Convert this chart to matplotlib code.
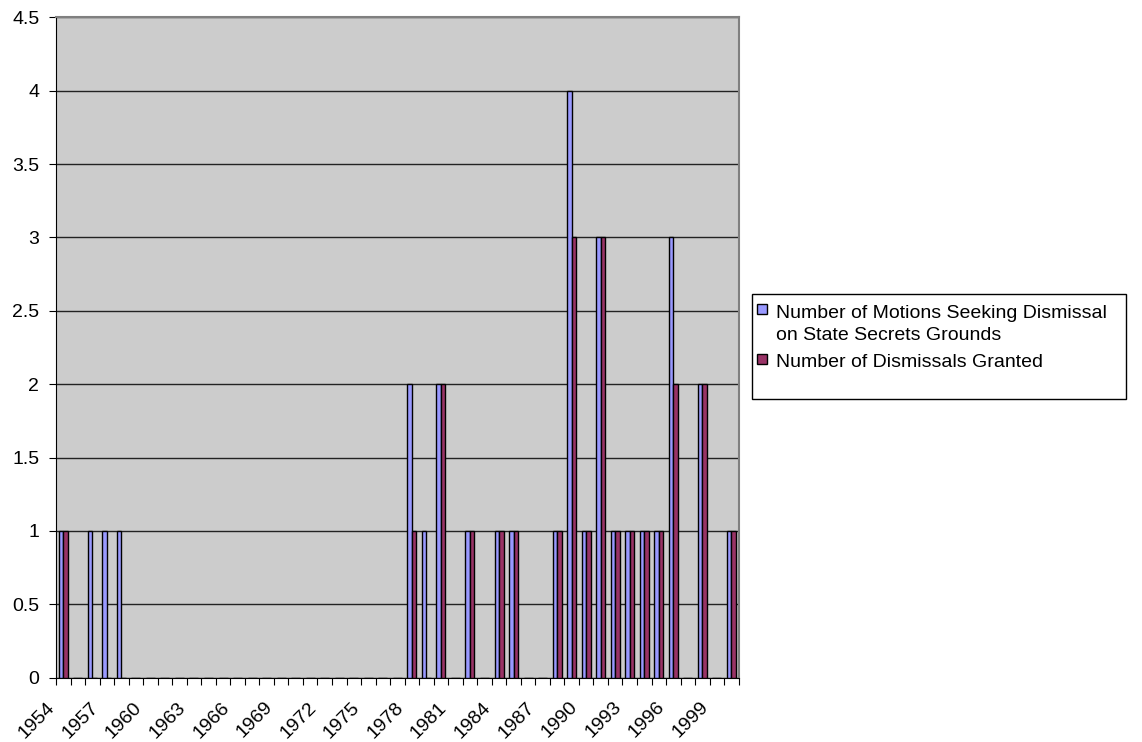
import numpy as np
import matplotlib
matplotlib.use("Agg")
import matplotlib.pyplot as plt
from matplotlib.patches import Rectangle
from matplotlib.transforms import ScaledTranslation

plt.rcParams['font.family'] = ['Liberation Sans', 'DejaVu Sans']

years = list(range(1954, 2001))
motions = [1, 0, 1, 1, 1, 0, 0, 0, 0, 0,   # 1954-1963
           0, 0, 0, 0, 0, 0, 0, 0, 0, 0,   # 1964-1973
           0, 0, 0, 0, 2, 1, 2, 0, 1, 0,   # 1974-1983
           1, 1, 0, 0, 1, 4, 1, 3, 1, 1,   # 1984-1993
           1, 1, 3, 0, 2, 0, 1]            # 1994-2000
dismissals = [1, 0, 0, 0, 0, 0, 0, 0, 0, 0,
              0, 0, 0, 0, 0, 0, 0, 0, 0, 0,
              0, 0, 0, 0, 1, 0, 2, 0, 1, 0,
              1, 1, 0, 0, 1, 3, 1, 3, 1, 1,
              1, 1, 2, 0, 2, 0, 1]
labels = [["Number of Motions Seeking Dismissal", "on State Secrets Grounds"],
          ["Number of Dismissals Granted"]]
colors = ["#9999FF", "#993366"]

W, H = 1142, 742
fig = plt.figure(figsize=(W / 100, H / 100), dpi=100)
ax = fig.add_axes([56 / W, 1 - 677.7 / H, (738.7 - 56) / W, (677.7 - 17.3) / H])
ax.set_facecolor("#CCCCCC")

x = np.arange(len(years))
w = 0.31
ax.bar(x - w / 2, motions, w, color=colors[0], edgecolor="black", linewidth=1, zorder=3)
ax.bar(x + w / 2, dismissals, w, color=colors[1], edgecolor="black", linewidth=1, zorder=3)

ax.set_xlim(-0.5, len(years) - 0.5)
ax.set_ylim(0, 4.5)
yt = np.arange(0, 4.51, 0.5)
ax.set_yticks(yt)
ax.set_yticklabels(["%g" % v for v in yt], fontsize=14)
ax.yaxis.grid(True, color="#222222", linewidth=1, zorder=1)
ax.set_axisbelow(True)

# tick marks at category boundaries
ax.set_xticks(np.arange(len(years) + 1) - 0.5)
ax.set_xticklabels([])
ax.tick_params(axis="x", length=5, direction="out", color="black")
ax.tick_params(axis="y", length=5, direction="out", color="black", pad=7)

# year labels every third category, rotated like the spreadsheet
off = ScaledTranslation(-11 / 100, -27 / 100, fig.dpi_scale_trans)
for i in x[::3]:
    ax.text(i, 0, str(years[i]), transform=ax.get_xaxis_transform() + off,
            rotation=45, rotation_mode="anchor", ha="right", va="center", fontsize=14)

ax.spines["left"].set_color("black")
ax.spines["bottom"].set_color("black")
ax.spines["top"].set_color("#808080")
ax.spines["right"].set_color("#808080")
ax.spines["top"].set_linewidth(1.5)
ax.spines["right"].set_linewidth(1.5)

# legend, laid out like the spreadsheet one
def fx(px):
    return px / W

def fy(py):
    return 1 - py / H

fig.patches.append(Rectangle((fx(752), fy(399)), fx(1126 - 752), (399 - 294) / H,
                             transform=fig.transFigure, fill=False, edgecolor="black", linewidth=1))
swatch_top = [304, 354]
baselines = [[318, 340], [367]]
for col, top, lines, bls in zip(colors, swatch_top, labels, baselines):
    fig.patches.append(Rectangle((fx(757), fy(top + 10)), fx(10), 10 / H, transform=fig.transFigure,
                                 facecolor=col, edgecolor="black", linewidth=1))
    for line, bl in zip(lines, bls):
        fig.text(fx(776), fy(bl), line, fontsize=14, ha="left", va="baseline")

fig.savefig("out.png", dpi=100)
